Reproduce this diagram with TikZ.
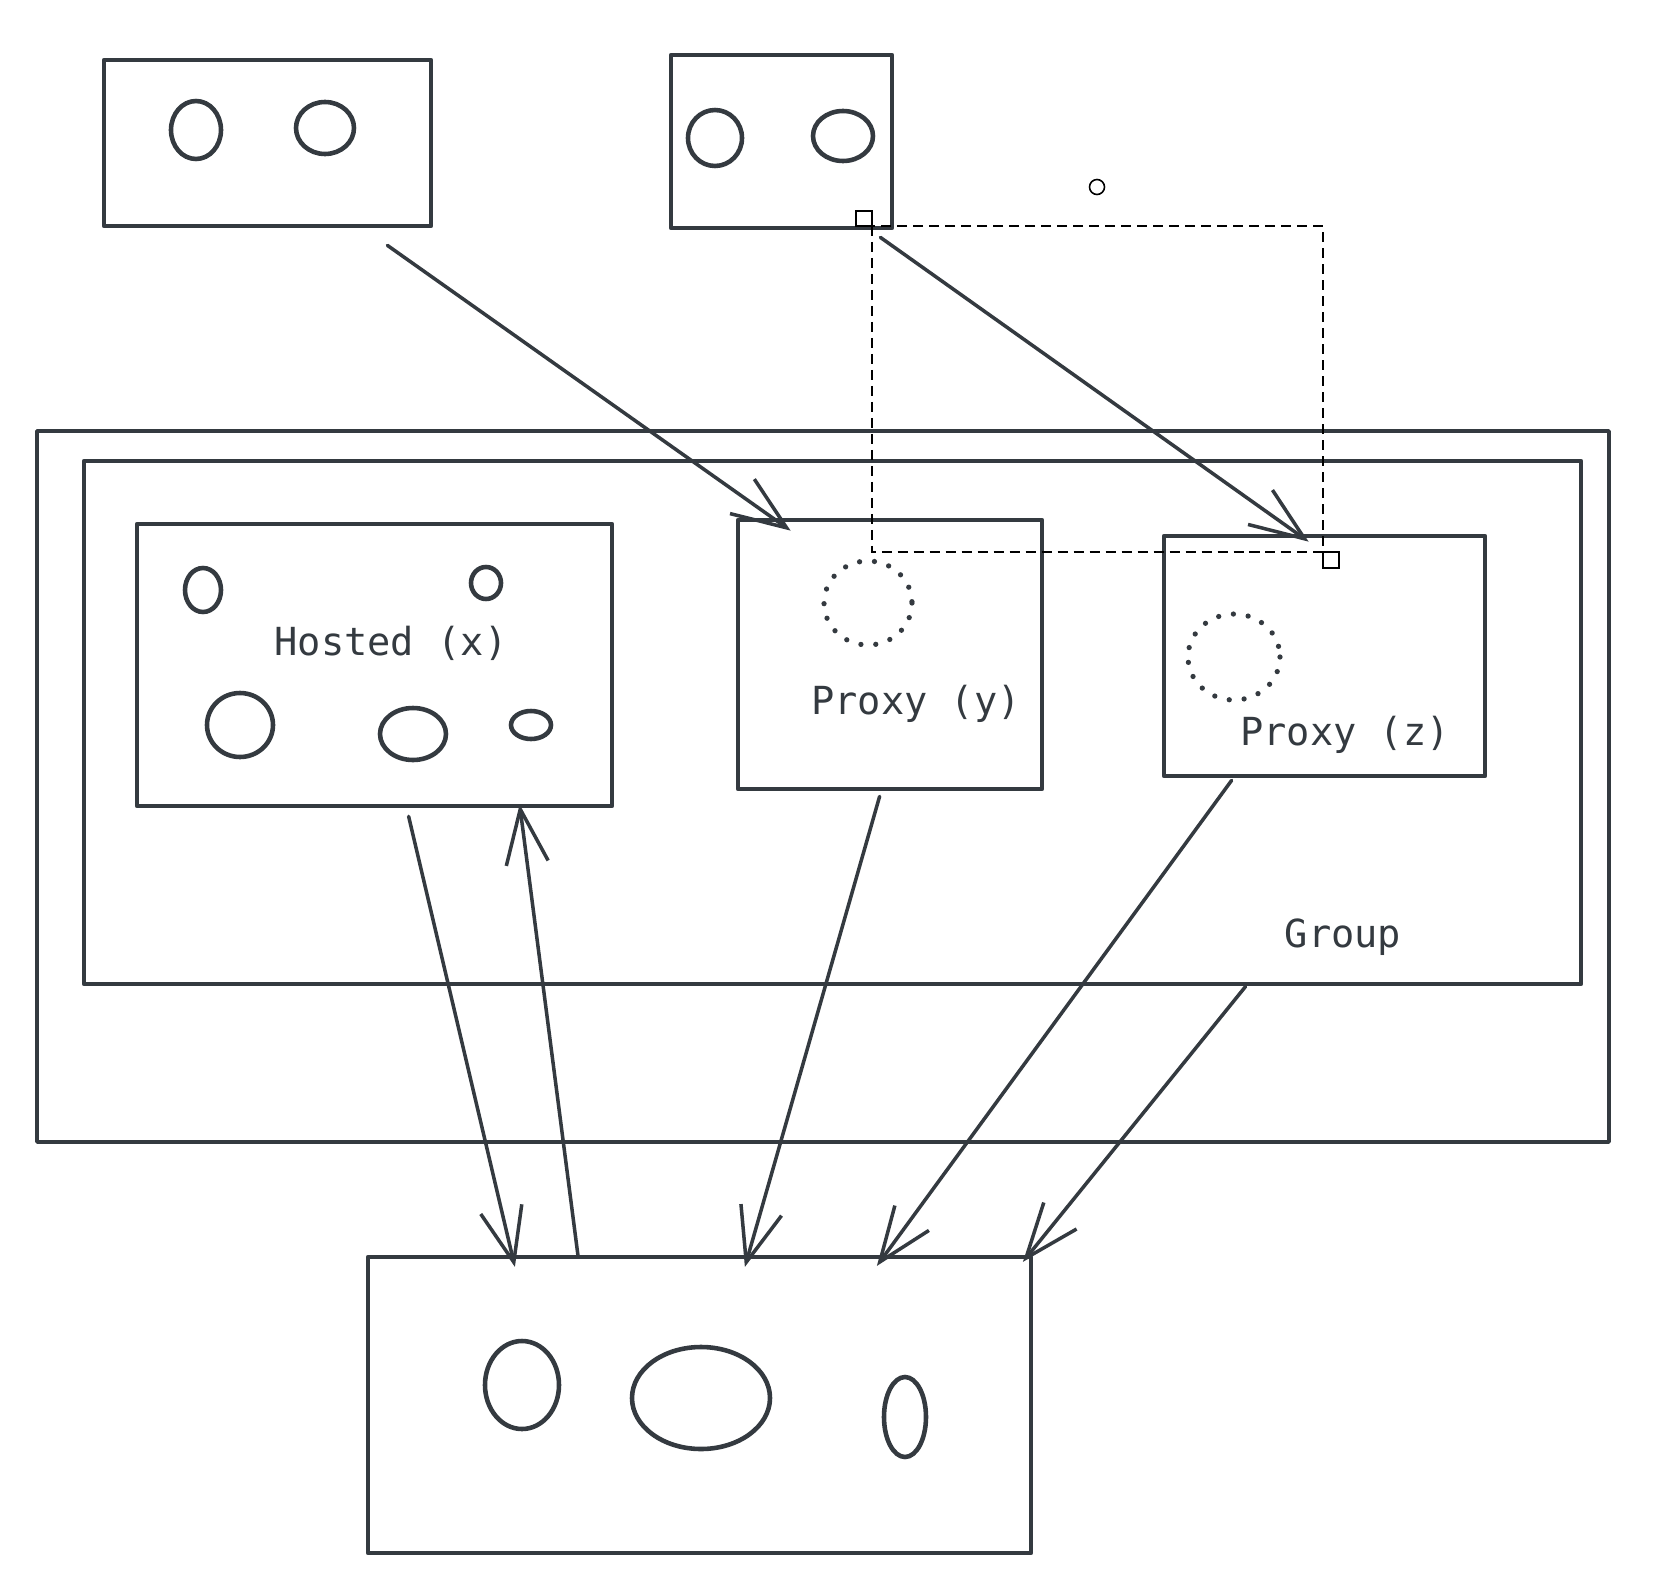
\documentclass[tikz,border=0pt]{standalone}
\usepackage{fontspec}
\newfontfamily\codefont{DejaVu Sans Mono}
\usetikzlibrary{arrows.meta,calc,fit}
\definecolor{ink}{HTML}{343A40}
\begin{document}
\begin{tikzpicture}[x=0.02cm,y=-0.02cm,
  box/.style={draw=ink, line width=2.7pt, inner sep=0pt, line join=round},
  thinbox/.style={box, line width=2pt},
  blob/.style={draw=ink, line width=2.6pt},
  dotring/.style={draw=ink, line width=3pt, line cap=round, dash pattern=on 0pt off 8.5pt},
  arr/.style={draw=ink, line width=2pt, line cap=round,
    -{Straight Barb[length=31pt,width=24pt,line width=2pt]}},
  lbl/.style={text=ink, inner sep=0pt, font=\codefont\fontsize{22}{26}\selectfont},
  sel/.style={draw=black, line width=0.85pt, dash pattern=on 5.7pt off 3.4pt},
  handle/.style={draw=black, line width=0.9pt, fill=white}]
\useasboundingbox (0,0) rectangle (1654,1582);

% source boxes at the top
\node[box, fit={(104,60) (431,226)}] (tl) {};
\draw[blob] (196,130) ellipse (25 and 29);
\draw[blob] (325,128) ellipse (29 and 26);
\node[box, fit={(671,55) (892,228)}] (tr) {};
\draw[blob] (715,138) ellipse (27 and 28);
\draw[blob] (843,136) ellipse (30 and 25);

% group containers
\node[thinbox, fit={(37,431) (1609,1142)}] (outer) {};
\node[box, fit={(84,461) (1581,984)}] (inner) {};
\node[lbl] (grouplbl) at (1343,937) {Group};

% hosted member
\node[box, fit={(137,524) (612,806)}] (hx) {};
\draw[blob] (203,590) ellipse (18 and 22);
\draw[blob] (486,583) ellipse (15 and 16);
\draw[blob] (240,725) ellipse (33 and 32);
\draw[blob] (413,734) ellipse (33 and 26);
\draw[blob] (531,725) ellipse (20 and 14);
\node[lbl] (hxlbl) at (391,643) {Hosted (x)};

% proxy members
\node[box, fit={(738,520) (1042,789)}] (py) {};
\draw[dotring] (868,603) ellipse (44 and 42);
\node[lbl] (pylbl) at (916,704) {Proxy (y)};
\node[box, fit={(1164,536) (1485,776)}] (pz) {};
\draw[dotring] (1234,657) ellipse (46 and 43);
\node[lbl] (pzlbl) at (1345,735) {Proxy (z)};

% target box at the bottom
\node[box, line width=2.4pt, fit={(368,1257) (1031,1553)}] (bot) {};
\draw[blob] (522,1385) ellipse (37 and 44);
\draw[blob] (701,1398) ellipse (69 and 51);
\draw[blob] (905,1417) ellipse (21 and 40);

% connectors
\draw[arr] ($(tl.south east)+(-46,17)$) -- ($(py.north west)+(55,13)$);
\draw[arr] ($(tr.south east)+(-14,7)$) -- ($(pz.north west)+(147,8)$);
\draw[arr] ($(hx.south west)+(274,8)$) -- ($(bot.north west)+(149,12)$);
\draw[arr] ($(bot.north west)+(212,0)$) -- ($(hx.south west)+(385,-4)$);
\draw[arr] ($(py.south west)+(144,5)$) -- ($(bot.north west)+(379,12)$);
\draw[arr] ($(pz.south west)+(70,2)$) -- ($(bot.north west)+(511,11)$);
\draw[arr] ($(inner.south west)+(1164,0)$) -- ($(bot.north west)+(657,7)$);

% selection frame with its handles
\draw[sel] (872,226) rectangle (1323,552);
\draw[handle] (856,211) rectangle (872,226);
\draw[handle] (1323,552) rectangle (1339,568);
\draw[handle] (1097,187) circle (7.5);
\end{tikzpicture}
\end{document}
